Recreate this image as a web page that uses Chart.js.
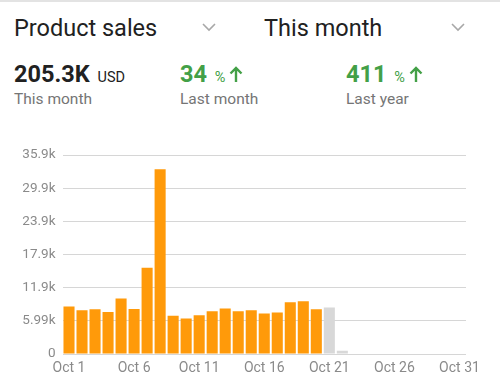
<!doctype html>
<html>
<head>
<meta charset="utf-8">
<title>Product sales</title>
<script src="https://cdn.jsdelivr.net/npm/chart.js@4.4.1/dist/chart.umd.min.js"></script>
<style>
	html, body { margin: 0; padding: 0; background: #fff; }
	body { width: 500px; height: 391px; position: relative; overflow: hidden; font-family: Roboto, sans-serif; }
	.topline { position: absolute; left: 0; top: 0; width: 500px; height: 2px; background: #e3e3e3; }
	.t { position: absolute; white-space: nowrap; line-height: 1; }
	.head { font-size: 23.5px; color: #212121; top: 17px; }
	.big { font-size: 23.5px; font-weight: bold; top: 63px; }
	.unit { font-size: 14.5px; font-weight: normal; margin-left: 2px; }
	.sub { font-size: 15.5px; color: #757575; top: 92px; }
	.green { color: #43a047; }
	.chev { position: absolute; }
	#chart-holder { position: absolute; left: 0; top: 140px; width: 500px; height: 250px; }
</style>
</head>
<body>
	<div class="topline"></div>
	<div class="t head" style="left:14px">Product sales</div>
	<svg class="chev" style="left:202px;top:22px" width="14" height="10"><polyline points="1,2 7,8 13,2" fill="none" stroke="#a8a8a8" stroke-width="1.6"/></svg>
	<div class="t head" style="left:264px">This month</div>
	<svg class="chev" style="left:451px;top:22px" width="14" height="10"><polyline points="1,2 7,8 13,2" fill="none" stroke="#a8a8a8" stroke-width="1.6"/></svg>

	<div class="t big" style="left:14px;color:#212121">205.3K <span class="unit">USD</span></div>
	<div class="t big green" style="left:180px">34 <span class="unit">%</span></div>
	<svg class="chev" style="left:229px;top:65px" width="14" height="18"><path d="M7 3 L7 17 M1.5 8.5 L7 3 L12.5 8.5" fill="none" stroke="#43a047" stroke-width="2.4"/></svg>
	<div class="t big green" style="left:346px">411 <span class="unit">%</span></div>
	<svg class="chev" style="left:409px;top:65px" width="14" height="18"><path d="M7 3 L7 17 M1.5 8.5 L7 3 L12.5 8.5" fill="none" stroke="#43a047" stroke-width="2.4"/></svg>

	<div class="t sub" style="left:14px">This month</div>
	<div class="t sub" style="left:180px">Last month</div>
	<div class="t sub" style="left:346px">Last year</div>

	<div id="chart-holder"><canvas id="chart-area"></canvas></div>
	<script>
		var days = [];
		for (var d = 1; d <= 31; d++) days.push('Oct ' + d);

		// daily sales, Oct 1 - Oct 20
		var sales = [8570, 7900, 8090, 7610, 10050, 8130, 15600, 33400, 6900, 6430,
			7020, 7740, 8210, 7720, 7900, 7320, 7490, 9340, 9520, 8090];
		// days still being counted (grey)
		var pending = [null, null, null, null, null, null, null, null, null, null,
			null, null, null, null, null, null, null, null, null, null, 8390, 600];

		var yMax = 35940;
		var yStep = 5990;
		var yTickLabels = ['0', '5.99k', '11.9k', '17.9k', '23.9k', '29.9k', '35.9k'];
		var xTickLabels = ['Oct 1', 'Oct 6', 'Oct 11', 'Oct 16', 'Oct 21', 'Oct 26', 'Oct 31'];

		var config = {
			type: 'bar',
			data: {
				labels: days,
				datasets: [{
					label: 'Sales',
					data: sales,
					backgroundColor: '#ff9a0a',
					barPercentage: 0.85,
					categoryPercentage: 1
				}, {
					label: 'Pending',
					data: pending,
					backgroundColor: '#d8d8d8',
					barPercentage: 0.85,
					categoryPercentage: 1
				}]
			},
			options: {
				responsive: true,
				maintainAspectRatio: false,
				animation: false,
				layout: { padding: { top: 12, right: 34, bottom: 6, left: 0 } },
				plugins: {
					legend: { display: false },
					tooltip: { enabled: false }
				},
				datasets: { bar: { grouped: false } },
				scales: {
					x: {
						grid: { display: false, drawTicks: false },
						border: { display: false },
						ticks: {
							autoSkip: false,
							maxRotation: 0,
							padding: 6,
							color: '#8a8a8a',
							font: { family: 'Roboto', size: 14 },
							callback: function(v, i) {
								var l = days[i];
								return xTickLabels.indexOf(l) >= 0 ? l : '';
							}
						},
						afterFit: function(scale) { scale.height = 30; }
					},
					y: {
						min: 0,
						max: yMax,
						grid: { color: '#d6d6d6', drawTicks: false, lineWidth: 1 },
						border: { display: false },
						ticks: {
							stepSize: yStep,
							padding: 7,
							color: '#8a8a8a',
							font: { family: 'Roboto', size: 13.5 },
							callback: function(v, i) { return yTickLabels[i]; }
						},
						afterFit: function(scale) { scale.width = 62.5; }
					}
				}
			}
		};

		window.onload = function() {
			var ctx = document.getElementById('chart-area').getContext('2d');
			window.myBar = new Chart(ctx, config);
		};
	</script>
</body>
</html>
